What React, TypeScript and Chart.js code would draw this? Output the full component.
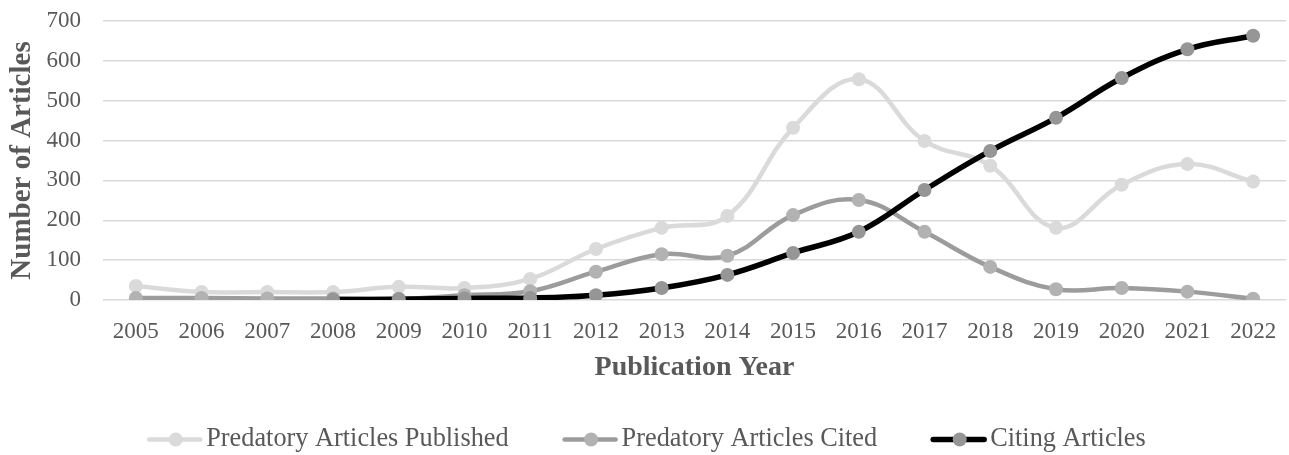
import React, { useEffect, useRef } from "react";
import { Chart, registerables } from "chart.js";

Chart.register(...registerables);

const years = ["2005", "2006", "2007", "2008", "2009", "2010", "2011", "2012", "2013", "2014", "2015", "2016", "2017", "2018", "2019", "2020", "2021", "2022"];
const publishedValues = [35, 20, 20, 20, 33, 30, 53, 128, 181, 211, 432, 554, 399, 337, 181, 289, 341, 297];
const citedValues = [5, 5, 4, 4, 3, 12, 22, 71, 115, 111, 213, 251, 171, 83, 27, 30, 21, 3];
const citingValues = [null, null, null, 1, 2, 4, 5, 12, 30, 63, 118, 171, 276, 374, 457, 557, 629, 663];
const yTickValues = [0, 100, 200, 300, 400, 500, 600, 700];
const seriesNames = ["Predatory Articles Published", "Predatory Articles Cited", "Citing Articles"];
const xTitle = "Publication Year";
const yTitle = "Number of Articles";

const FONT = '"Liberation Serif", "Times New Roman", serif';
const TEXT = "#595959";

const legendPlugin = {
  id: "lineLegend",
  afterDraw(chart: any) {
    const ctx = chart.ctx as CanvasRenderingContext2D;
    ctx.save();
    ctx.font = `26.3px ${FONT}`;
    const lineLen = 55;
    const textGap = 4;
    const itemGap = 54;
    const items = chart.data.datasets.map((ds: any) => ({
      label: ds.label,
      line: ds.borderColor,
      point: ds.pointBackgroundColor,
      lw: ds.borderWidth,
      r: ds.pointRadius,
      w: ctx.measureText(ds.label).width,
    }));
    const total = items.reduce((s: number, it: any) => s + lineLen + textGap + it.w, 0) + itemGap * (items.length - 1);
    let x = chart.width / 2 + 2 - total / 2;
    const y = 439.5;
    for (const it of items) {
      ctx.strokeStyle = it.line;
      ctx.lineWidth = it.lw;
      ctx.lineCap = "round";
      ctx.beginPath();
      ctx.moveTo(x + 2, y);
      ctx.lineTo(x + lineLen - 2, y);
      ctx.stroke();
      ctx.fillStyle = it.point;
      ctx.beginPath();
      ctx.arc(x + lineLen / 2 + 1, y, it.r, 0, Math.PI * 2);
      ctx.fill();
      ctx.fillStyle = TEXT;
      ctx.textBaseline = "middle";
      ctx.textAlign = "left";
      ctx.fillText(it.label, x + lineLen + textGap, y);
      x += lineLen + textGap + it.w + itemGap;
    }
    ctx.restore();
  },
};

export default function App() {
  const ref = useRef<HTMLCanvasElement | null>(null);
  useEffect(() => {
    if (!ref.current) return;
    const chart = new Chart(ref.current, {
      type: "line",
      data: {
        labels: years,
        datasets: [
          {
            label: seriesNames[0],
            data: publishedValues,
            borderColor: "#dadada",
            backgroundColor: "#dadada",
            pointBackgroundColor: "#dadada",
            pointBorderWidth: 0,
            pointRadius: 7,
            borderWidth: 4.5,
            tension: 0.4,
            order: 2,
          },
          {
            label: seriesNames[1],
            data: citedValues,
            borderColor: "#9c9c9c",
            backgroundColor: "#b2b2b2",
            pointBackgroundColor: "#b2b2b2",
            pointBorderWidth: 0,
            pointRadius: 7,
            borderWidth: 4.5,
            tension: 0.4,
            order: 1,
          },
          {
            label: seriesNames[2],
            data: citingValues as any,
            borderColor: "#000000",
            backgroundColor: "#969696",
            pointBackgroundColor: "#969696",
            pointBorderWidth: 0,
            pointRadius: 7,
            borderWidth: 5.5,
            tension: 0.4,
            order: 0,
          },
        ],
      },
      options: {
        animation: false,
        responsive: false,
        layout: { autoPadding: false, padding: { top: 0, right: 3, left: 0, bottom: 0 } },
        plugins: {
          legend: { display: false },
          tooltip: { enabled: false },
        },
        scales: {
          x: {
            offset: true,
            grid: { display: false, drawTicks: false },
            border: { display: false },
            ticks: { color: TEXT, font: { family: FONT, size: 23 }, padding: 18, maxRotation: 0, autoSkip: false },
            title: { display: true, text: xTitle, color: TEXT, font: { family: FONT, size: 28, weight: "bold" }, padding: { top: 0, bottom: 70 } },
            afterFit: (scale: any) => {
              scale.height = 155;
              scale.paddingLeft = 0;
              scale.paddingRight = 0;
            },
          },
          y: {
            min: 0,
            max: 700,
            afterBuildTicks: (scale: any) => { scale.ticks = yTickValues.map((v) => ({ value: v })); },
            grid: { color: "#d9d9d9", lineWidth: 1.5, drawTicks: false },
            border: { display: false },
            ticks: { color: TEXT, font: { family: FONT, size: 23 }, padding: 22 },
            title: { display: true, text: yTitle, color: TEXT, font: { family: FONT, size: 29, weight: "bold" }, padding: { top: 5, bottom: 0 } },
            afterFit: (scale: any) => {
              scale.width = 103;
              scale.paddingTop = 21;
              scale.paddingBottom = 0;
            },
          },
        },
      },
      plugins: [legendPlugin],
    });
    return () => chart.destroy();
  }, []);
  return (
    <div style={{ position: "fixed", left: 0, top: 0, width: 1289, height: 455, background: "#fff" }}>
      <canvas ref={ref} width={1289} height={455} />
    </div>
  );
}
